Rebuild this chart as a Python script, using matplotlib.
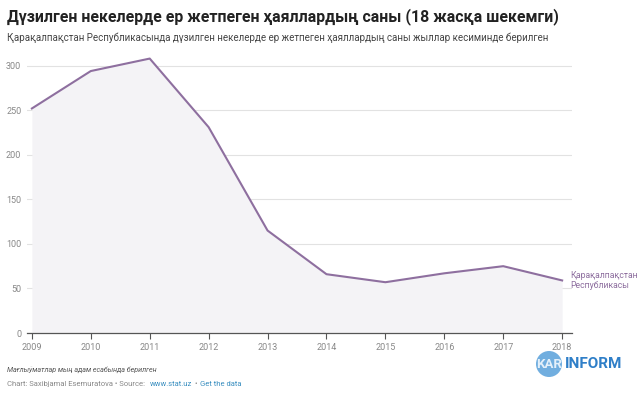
import matplotlib.pyplot as plt
from matplotlib.patches import Ellipse

plt.rcParams["font.family"] = ["Roboto", "DejaVu Sans"]

years = [2009, 2010, 2011, 2012, 2013, 2014, 2015, 2016, 2017, 2018]
values = [252, 294, 308, 231, 115, 66, 57, 67, 75, 59]
yticks = [0, 50, 100, 150, 200, 250, 300]

title = "Дүзилген некелерде ер жетпеген ҳаяллардың саны (18 жасқа шекемги)"
subtitle = "Қарақалпақстан Республикасында дүзилген некелерде ер жетпеген ҳаяллардың саны жыллар кесиминде берилген"
series_name = "Қарақалпақстан\nРеспубликасы"
note = "Мағлыўматлар мың адам есабында берилген"

line_col = "#8e6f9f"
grey = "#888888"
link = "#3a8fc0"

fig = plt.figure(figsize=(6.4, 3.94), dpi=100)
ax = fig.add_axes([0.042, 0.1548, 0.852, 0.7056])

ax.fill_between(years, values, 0, color="#f4f3f6", lw=0)
ax.plot(years, values, color=line_col, lw=1.5)

ax.set_xlim(2008.915, 2018.17)
ax.set_ylim(0, 312)
ax.set_yticks(yticks)
ax.set_xticks(years)
ax.grid(axis="y", color="#e2e2e2", lw=0.8)
ax.set_axisbelow(True)
for s in ["top", "right", "left"]:
    ax.spines[s].set_visible(False)
ax.spines["bottom"].set_color("#555555")
ax.spines["bottom"].set_linewidth(0.9)
ax.tick_params(axis="x", colors="#555555", length=4, width=0.8, labelsize=6.5, labelcolor=grey, pad=3)
ax.tick_params(axis="y", length=0, labelsize=6.5, labelcolor=grey, pad=4)

ax.text(years[-1] + 0.13, values[-1], series_name, color=line_col, fontsize=6.2,
        va="center", ha="left", clip_on=False, linespacing=1.25)

fig.text(0.011, 0.957, title, fontsize=11.4, fontweight="bold", color="#222222", va="center")
fig.text(0.011, 0.903, subtitle, fontsize=7, color="#444444", va="center")
fig.text(0.011, 0.061, note, fontsize=5.1, style="italic", color="#555555", va="center")
fig.text(0.011, 0.025, "Chart: Saxibjamal Esemuratova • Source:", fontsize=5.5, color=grey, va="center")
fig.text(0.234, 0.025, "www.stat.uz", fontsize=5.5, color=link, va="center")
fig.text(0.304, 0.025, "•", fontsize=5.5, color=grey, va="center")
fig.text(0.312, 0.025, "Get the data", fontsize=5.5, color=link, va="center")

# logo
fig.add_artist(Ellipse((549 / 640, 1 - 364 / 394), 26 / 640, 26 / 394,
                       transform=fig.transFigure, color="#4d9ad8", alpha=0.8, lw=0))
fig.text(549 / 640, 1 - 364 / 394, "KAR", fontsize=9.5, fontweight="bold", color="#e4f0fa",
         va="center", ha="center")
fig.text(594 / 640, 1 - 364 / 394, "INFORM", fontsize=11, fontweight="bold", color="#2f7fc8",
         va="center", ha="center")

fig.savefig("out.png", dpi=100)
